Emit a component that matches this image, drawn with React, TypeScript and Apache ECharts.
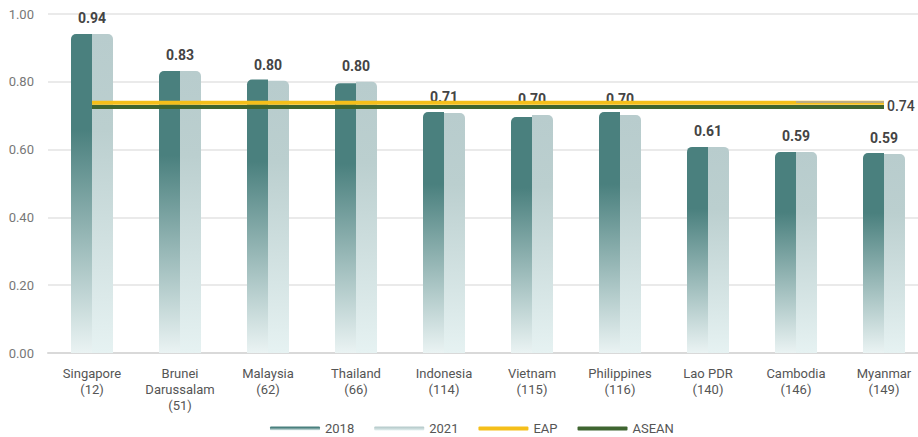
import React, { useEffect, useRef } from "react";
import * as echarts from "echarts";

// Countries with their rank in parentheses
const categories = [
  "Singapore\n(12)",
  "Brunei\nDarussalam\n(51)",
  "Malaysia\n(62)",
  "Thailand\n(66)",
  "Indonesia\n(114)",
  "Vietnam\n(115)",
  "Philippines\n(116)",
  "Lao PDR\n(140)",
  "Cambodia\n(146)",
  "Myanmar\n(149)",
];

const values2018 = [0.941, 0.832, 0.807, 0.796, 0.711, 0.696, 0.711, 0.608, 0.593, 0.59];
const values2021 = [0.941, 0.832, 0.803, 0.8, 0.708, 0.702, 0.702, 0.608, 0.593, 0.587];
const eapValue = 0.738;
const aseanValue = 0.726;

const yTicks = [0, 0.2, 0.4, 0.6, 0.8, 1.0];

const FONT = "Roboto, 'Noto Sans', sans-serif";

export default function App() {
  const ref = useRef<HTMLDivElement>(null);

  useEffect(() => {
    if (!ref.current) return;
    const chart = echarts.init(ref.current, undefined, { renderer: "svg" });

    const grad = (c0: string, c1: string, c2: string) =>
      new echarts.graphic.LinearGradient(0, 0, 0, 1, [
        { offset: 0, color: c0 },
        { offset: 0.3, color: c1 },
        { offset: 1, color: c2 },
      ]);

    chart.setOption({
      animation: false,
      textStyle: { fontFamily: FONT },
      grid: { left: 48, top: 14, width: 880, bottom: 84, outerBoundsMode: "none" },
      legend: {
        left: 265,
        bottom: -3,
        itemWidth: 50,
        itemHeight: 4,
        itemGap: 20,
        icon: "roundRect",
        textStyle: { fontSize: 13, color: "#555", fontFamily: FONT },
        data: ["2018", "2021", "EAP", "ASEAN"],
      },
      xAxis: {
        type: "category",
        data: categories,
        axisLine: { lineStyle: { color: "#d9d9d9", width: 2 } },
        axisTick: { show: false },
        axisLabel: { color: "#555", fontSize: 13, lineHeight: 16, margin: 12, interval: 0 },
      },
      yAxis: {
        type: "value",
        min: yTicks[0],
        max: yTicks[yTicks.length - 1],
        interval: 0.2,
        axisLabel: {
          color: "#777",
          fontSize: 13,
          margin: 14,
          formatter: (v: number) => v.toFixed(2),
        },
        splitLine: { lineStyle: { color: "#e3e3e3", width: 1.5 } },
      },
      series: [
        {
          name: "2018",
          type: "bar",
          data: values2018,
          barWidth: 21,
          barGap: "0%",
          color: "#4a807e",
          itemStyle: {
            color: grad("#4a807e", "#4a807e", "#eaf3f3"),
            borderRadius: [5, 0, 0, 0],
          },
        },
        {
          name: "2021",
          type: "bar",
          data: values2021,
          barWidth: 21,
          color: "#cfdcdc",
          itemStyle: {
            color: grad("#b8cccd", "#bbcfcf", "#e6f2f2"),
            borderRadius: [0, 5, 0, 0],
          },
          label: {
            show: true,
            position: "top",
            distance: 9,
            offset: [-10.5, 0],
            color: "#444",
            fontSize: 14,
            fontWeight: "bold",
            fontFamily: FONT,
            formatter: (p: any) => Number(p.value).toFixed(2),
          },
        },
        {
          name: "EAP",
          type: "line",
          data: categories.map(() => eapValue),
          symbol: "none",
          color: "#f5bf1a",
          lineStyle: { width: 4, color: "#f5bf1a" },
          z: 3,
          endLabel: {
            show: true,
            distance: 3,
            offset: [0, 3],
            color: "#444",
            fontSize: 14,
            fontWeight: 500,
            fontFamily: FONT,
            formatter: (p: any) => Number(p.value).toFixed(2),
          },
          markLine: {
            silent: true,
            symbol: "none",
            label: { show: false },
            lineStyle: { color: "#a8a8a8", width: 1.5, type: "solid" },
            data: [
              [
                { coord: [categories[8], eapValue + 0.002] },
                { coord: [categories[9], eapValue + 0.002] },
              ],
            ],
          },
        },
        {
          name: "ASEAN",
          type: "line",
          data: categories.map(() => aseanValue),
          symbol: "none",
          color: "#3f6530",
          lineStyle: { width: 4, color: "#3f6530" },
          z: 2,
        },
      ],
    });

    return () => chart.dispose();
  }, []);

  return (
    <div
      ref={ref}
      style={{ position: "fixed", left: 0, top: 0, width: 918, height: 437, background: "#fff" }}
    />
  );
}
